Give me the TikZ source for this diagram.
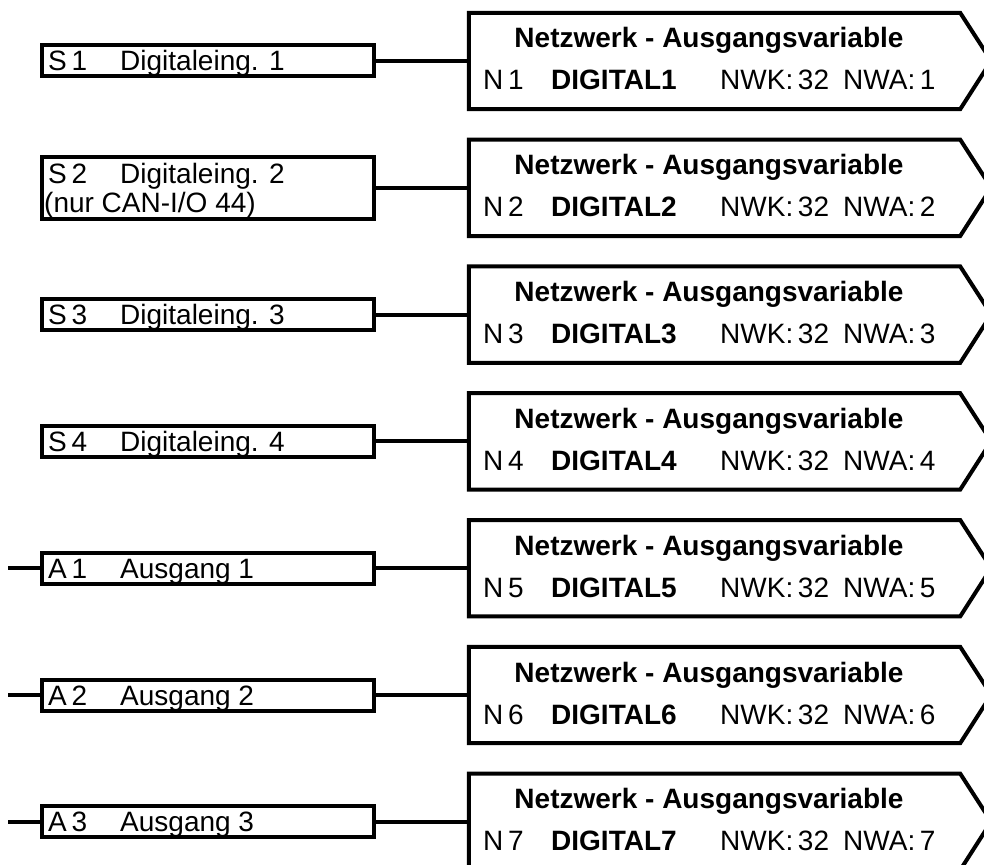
\documentclass[tikz,border=0pt]{standalone}
\usepackage{fontspec}
\setmainfont{Liberation Sans}
\begin{document}
\begin{tikzpicture}[x=1pt,y=-1pt, line join=miter,
  lbox/.style={draw, line width=4pt, minimum width=332pt, minimum height=31pt, inner sep=0pt},
  rbox/.style={minimum width=491pt, minimum height=96pt, inner sep=0pt},
  wire/.style={line width=4pt},
  txt/.style={anchor=base west, inner sep=0pt, font=\fontsize{28}{34}\selectfont},
  btxt/.style={anchor=base west, inner sep=0pt, font=\fontsize{28}{34}\selectfont\bfseries},
  ttl/.style={anchor=base, inner sep=0pt, font=\fontsize{28}{34}\selectfont\bfseries}]
\useasboundingbox (0,0) rectangle (984,864);
\clip (0,0) rectangle (984,864);
\foreach \k in {1,...,7}{
  \pgfmathsetmacro\m{61+(\k-1)*126.8}
  \node[rbox] (r\k) at (714.5,\m) {};
  \draw[wire] (r\k.north west) -- (r\k.north east) -- ++(31,48) -- (r\k.south east) -- (r\k.south west) -- cycle;
  \node[ttl] (t\k) at (709,\m-13) {Netzwerk - Ausgangsvariable};
  \node[txt] (n\k) at (483,\m+29) {N\,\k};
  \node[btxt] (d\k) at (551,\m+29) {DIGITAL\k};
  \node[txt] (w\k) at (720,\m+29) {NWK:\,32};
  \node[txt] (a\k) at (843,\m+29) {NWA:\,\k};
}
% S1
\node[lbox] (s1) at (207.5,61) {};
\node[txt] (s1a) at (48,71) {S\,1};
\node[txt] (s1b) at (120,71) {Digitaleing. 1};
\draw[wire] (s1.east) -- (r1.west |- s1.east);
% S2
\node[lbox, minimum height=62pt] (s2) at (207.5,187.8) {};
\node[txt] (s2a) at (48,183) {S\,2};
\node[txt] (s2b) at (120,183) {Digitaleing. 2};
\node[txt] (s2c) at (44,212) {(nur CAN-I/O 44)};
\draw[wire] (s2.east) -- (r2.west |- s2.east);
% S3
\node[lbox] (s3) at (207.5,314.6) {};
\node[txt] (s3a) at (48,324.6) {S\,3};
\node[txt] (s3b) at (120,324.6) {Digitaleing. 3};
\draw[wire] (s3.east) -- (r3.west |- s3.east);
% S4
\node[lbox] (s4) at (207.5,441.4) {};
\node[txt] (s4a) at (48,451.4) {S\,4};
\node[txt] (s4b) at (120,451.4) {Digitaleing. 4};
\draw[wire] (s4.east) -- (r4.west |- s4.east);
% A1
\node[lbox] (o1) at (207.5,568.2) {};
\node[txt] (o1a) at (48,578.2) {A\,1};
\node[txt] (o1b) at (120,578.2) {Ausgang 1};
\coordinate (i1) at (8,568.2);
\draw[wire] (i1) -- (o1.west);
\draw[wire] (o1.east) -- (r5.west |- o1.east);
% A2
\node[lbox] (o2) at (207.5,695) {};
\node[txt] (o2a) at (48,705) {A\,2};
\node[txt] (o2b) at (120,705) {Ausgang 2};
\coordinate (i2) at (8,695);
\draw[wire] (i2) -- (o2.west);
\draw[wire] (o2.east) -- (r6.west |- o2.east);
% A3
\node[lbox] (o3) at (207.5,821.8) {};
\node[txt] (o3a) at (48,831.8) {A\,3};
\node[txt] (o3b) at (120,831.8) {Ausgang 3};
\coordinate (i3) at (8,821.8);
\draw[wire] (i3) -- (o3.west);
\draw[wire] (o3.east) -- (r7.west |- o3.east);
\end{tikzpicture}
\end{document}
